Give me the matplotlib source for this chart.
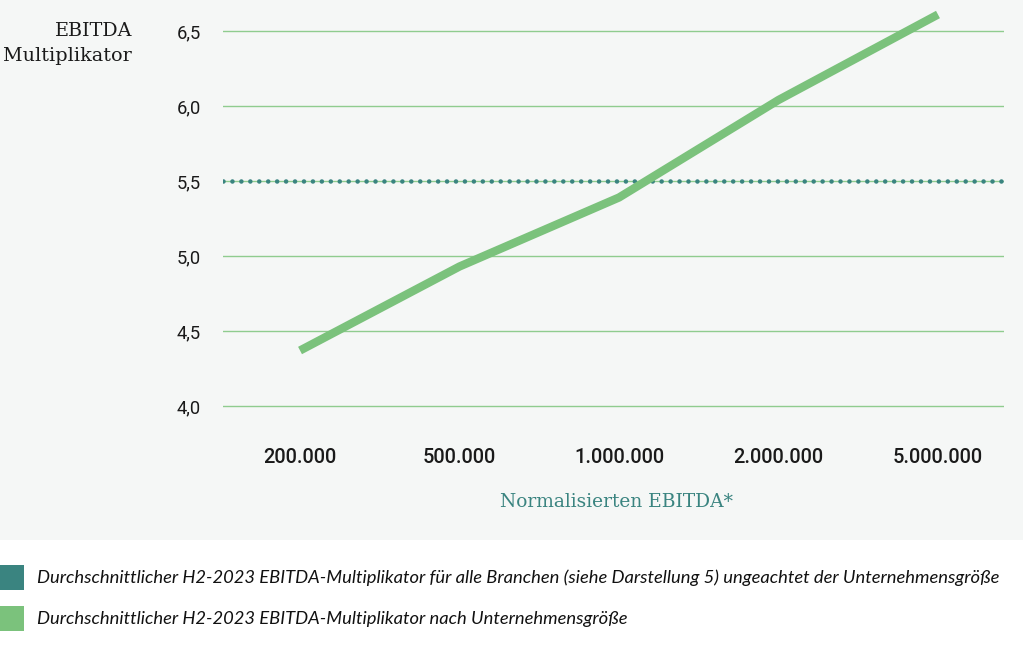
import matplotlib.pyplot as plt
from matplotlib.patches import Rectangle

# EBITDA multiples by company size (normalised EBITDA)
sizes = ["200.000", "500.000", "1.000.000", "2.000.000", "5.000.000"]
multiple_by_size = [4.37, 4.93, 5.39, 6.04, 6.61]
avg_all_sectors = 5.5
y_ticks = [4.0, 4.5, 5.0, 5.5, 6.0, 6.5]

label_avg = ("Durchschnittlicher H2-2023 EBITDA-Multiplikator für alle Branchen "
             "(siehe Darstellung 5) ungeachtet der Unternehmensgröße")
label_size = "Durchschnittlicher H2-2023 EBITDA-Multiplikator nach Unternehmensgröße"

TEAL = "#3a8480"
GREEN = "#7bc27c"
GRID = "#8fcc8f"
BG = "#f5f7f6"

W, H = 1023, 649
fig = plt.figure(figsize=(W / 100, H / 100), dpi=100)
fig.patches.append(Rectangle((0, 109 / H), 1, 1, transform=fig.transFigure,
                             facecolor=BG, edgecolor="none", zorder=-5))

ax = fig.add_axes([223 / W, 240 / H, 781 / W, 408 / H])
ax.set_facecolor("none")

x = range(len(sizes))
ax.set_yticks(y_ticks)
ax.yaxis.grid(True, color=GRID, lw=1.0)
ax.set_axisbelow(True)

ax.axhline(avg_all_sectors, color=TEAL, lw=3.3, linestyle=(0, (0.001, 1.95)),
           dash_capstyle="round", zorder=2)
ax.plot(x, multiple_by_size, color=GREEN, lw=6.0, solid_capstyle="butt",
        solid_joinstyle="round", zorder=3)

ax.set_xlim(-0.483, 4.414)
ax.set_ylim(3.98, 6.7)
ax.set_xticks(list(x))
ax.set_xticklabels(sizes, fontfamily="Roboto", fontsize=14.4, fontweight="medium")
ax.set_yticklabels([f"{v:.1f}".replace(".", ",") for v in y_ticks],
                   fontfamily="Roboto", fontsize=13.2)
ax.tick_params(axis="y", length=0, pad=15.8, colors="#1a1a1a")
ax.tick_params(axis="x", length=0, pad=28.3, colors="#1a1a1a")
for s in ax.spines.values():
    s.set_visible(False)

ax.set_xlabel("Normalisierten EBITDA*", fontfamily="DejaVu Serif", fontsize=13.4,
              color=TEAL, va="top")
ax.xaxis.set_label_coords(0.504, -0.205)
ax.set_ylabel("EBITDA\nMultiplikator", fontfamily="DejaVu Serif", fontsize=13.8,
              rotation=0, ha="right", va="top", multialignment="right",
              linespacing=1.46, color="#1a1a1a")
ax.yaxis.set_label_coords(-0.1165, 0.948)

# legend below the chart area
legend_colors = [TEAL, GREEN]
legend_labels = [label_avg, label_size]
for i, (c, lab) in enumerate(zip(legend_colors, legend_labels)):
    top = 565 + 41 * i
    fig.patches.append(Rectangle((0, 1 - (top + 25) / H), 24 / W, 25 / H,
                                 transform=fig.transFigure, facecolor=c,
                                 edgecolor="none"))
    fig.text(37 / W, 1 - (top + 13) / H, lab, family="Lato", style="italic",
             fontsize=13.2, va="center", ha="left", color="#111111")

fig.savefig("out.png", dpi=100)
